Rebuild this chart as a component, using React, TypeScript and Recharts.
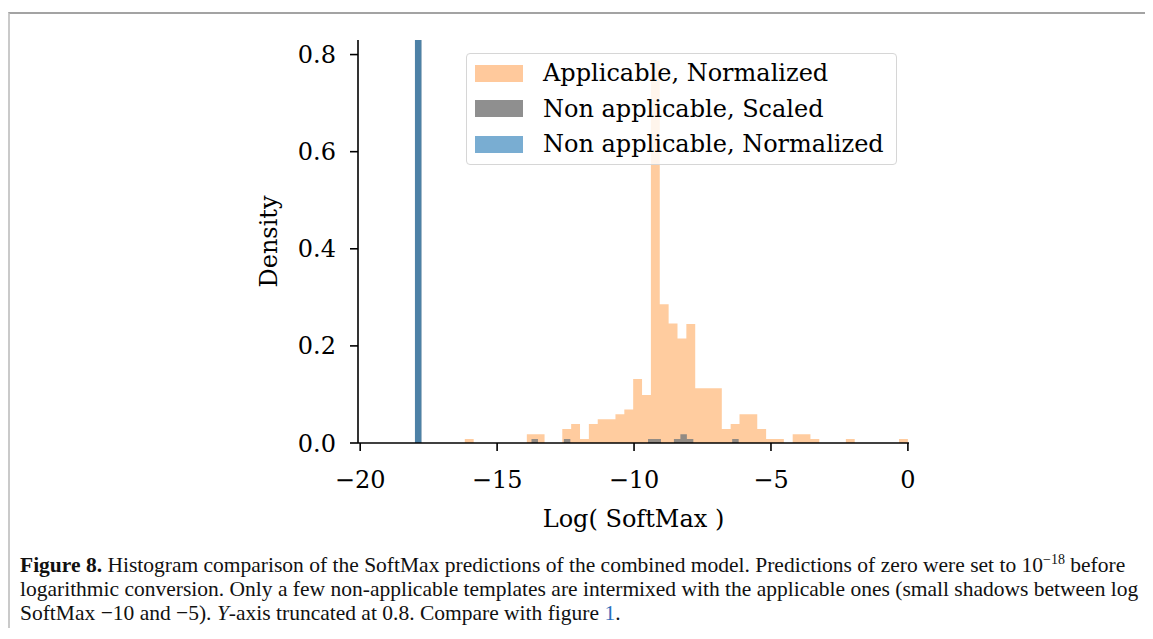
import React from 'react';
import { ComposedChart, Area, XAxis, YAxis, Legend } from 'recharts';

const seriesNames = ['Applicable, Normalized', 'Non applicable, Scaled', 'Non applicable, Normalized'];
const seriesColors = ['#ff7f0e', '#7f7f7f', '#1f77b4'];
const seriesOpacity = [0.4, 0.85, 0.6];
const swatchColors = ['#ffc99c', '#8f8f8f', '#79add2'];

// applicable templates, normalized (50 bins between -16.18 and 0)
const applicableStart = -16.18;
const applicableBinWidth = 0.3236;
const applicableDensity = [
  0.008, 0, 0, 0, 0, 0, 0, 0.018, 0.018, 0,
  0, 0.029, 0.039, 0.008, 0.039, 0.049, 0.049, 0.059, 0.069, 0.132,
  0.099, 0.788, 0.286, 0.246, 0.215, 0.245, 0.113, 0.113, 0.113, 0.029,
  0.039, 0.059, 0.059, 0.029, 0.008, 0.008, 0, 0.018, 0.018, 0.008,
  0, 0, 0, 0.008, 0, 0, 0, 0, 0, 0.008,
];

// non applicable, scaled (50 bins between -18 and -6.18); first bin truncated
const scaledStart = -18;
const scaledBinWidth = 0.2364;
const scaledDensity = [
  4.15, 0, 0, 0, 0, 0, 0, 0, 0, 0,
  0, 0, 0, 0, 0, 0, 0, 0, 0.008, 0,
  0, 0, 0, 0.008, 0, 0, 0, 0, 0, 0,
  0, 0, 0, 0, 0, 0, 0.008, 0.008, 0, 0,
  0.008, 0.018, 0.008, 0, 0, 0, 0, 0, 0, 0.008,
];

// non applicable, normalized: everything in the first bin (truncated)
const normalizedStart = -18;
const normalizedBinWidth = 0.2364;
const normalizedDensity = [4.23];

const xTicks = [-20, -15, -10, -5, 0];
const yTicks = [0, 0.2, 0.4, 0.6, 0.8];

const toSteps = (start: number, width: number, values: number[]) => {
  const pts = values.map((y, i) => ({ x: start + i * width, y }));
  pts.push({ x: start + values.length * width, y: values[values.length - 1] });
  return pts;
};

const histograms = [
  toSteps(applicableStart, applicableBinWidth, applicableDensity),
  toSteps(scaledStart, scaledBinWidth, scaledDensity),
  toSteps(normalizedStart, normalizedBinWidth, normalizedDensity),
];

const serif = '"DejaVu Serif", serif';
const tickStyle = { fontFamily: serif, fontSize: 24, fill: '#000' };

const LegendBox = () => (
  <div
    style={{
      width: 429,
      height: 110,
      border: '1px solid #d6d6d6',
      borderRadius: 4,
      background: 'rgba(255,255,255,0.8)',
      position: 'relative',
      fontFamily: serif,
      fontSize: 24,
      color: '#000',
    }}
  >
    {seriesNames.map((name, i) => (
      <div key={name} style={{ position: 'absolute', left: 8, top: 6 + i * 35.5, height: 26, display: 'flex', alignItems: 'center' }}>
        <span style={{ display: 'inline-block', width: 48, height: 17, background: swatchColors[i], marginRight: 20 }} />
        <span style={{ whiteSpace: 'nowrap' }}>{name}</span>
      </div>
    ))}
  </div>
);

export default function App() {
  return (
    <div style={{ position: 'relative', width: 1145, height: 620, background: '#fff' }}>
      <div
        style={{
          position: 'absolute', left: 0, top: 4, right: 0, bottom: -8,
          borderTop: '2px solid #a3a3a3', borderLeft: '2px solid #cacaca',
        }}
      />
      <div style={{ position: 'absolute', left: 0, top: 0 }}>
        <ComposedChart width={911} height={535} margin={{ top: 32, right: 10, bottom: 0, left: 240 }}>
          <XAxis
            type="number"
            dataKey="x"
            domain={[-20.08, 0.04]}
            allowDataOverflow
            ticks={xTicks}
            tickFormatter={(v: number) => String(v).replace('-', '\u2212')}
            tick={tickStyle}
            tickSize={8}
            tickMargin={20}
            height={100}
            axisLine={{ stroke: '#000', strokeWidth: 1.6 }}
            tickLine={{ stroke: '#000', strokeWidth: 1.6 }}
            label={{ value: 'Log( SoftMax )', position: 'insideTop', offset: 67, style: { fontFamily: serif, fontSize: 24, fill: '#000' } }}
          />
          <YAxis
            type="number"
            domain={[0, 0.83]}
            allowDataOverflow
            ticks={yTicks}
            tickFormatter={(v: number) => v.toFixed(1)}
            tick={tickStyle}
            tickSize={8}
            tickMargin={14}
            width={110}
            axisLine={{ stroke: '#000', strokeWidth: 1.6 }}
            tickLine={{ stroke: '#000', strokeWidth: 1.6 }}
            label={{ value: 'Density', angle: -90, position: 'insideLeft', offset: 20, style: { fontFamily: serif, fontSize: 24, fill: '#000', textAnchor: 'middle' } }}
          />
          {histograms.map((steps, i) => (
            <Area
              key={seriesNames[i]}
              name={seriesNames[i]}
              data={steps}
              dataKey="y"
              type="stepAfter"
              fill={seriesColors[i]}
              fillOpacity={seriesOpacity[i]}
              stroke="none"
              dot={false}
              activeDot={false}
              baseValue={0}
              isAnimationActive={false}
            />
          ))}
          <Legend
            layout="vertical"
            align="center"
            verticalAlign="middle"
            content={() => <LegendBox />}
            wrapperStyle={{ position: 'absolute', left: 458, top: 45, width: 431, height: 112 }}
          />
        </ComposedChart>
      </div>
      <div
        style={{
          position: 'absolute', left: 12, top: 545, width: 1130,
          fontFamily: '"Liberation Serif", serif', fontSize: 21.5, lineHeight: '24px', color: '#111',
        }}
      >
        <div style={{ whiteSpace: 'nowrap' }}>
          <b>Figure 8.</b> Histogram comparison of the SoftMax predictions of the combined model. Predictions of zero were set to 10<sup style={{ fontSize: 14, lineHeight: 0 }}>{'\u221218'}</sup> before
        </div>
        <div style={{ whiteSpace: 'nowrap' }}>
          logarithmic conversion. Only a few non-applicable templates are intermixed with the applicable ones (small shadows between log
        </div>
        <div style={{ whiteSpace: 'nowrap' }}>
          SoftMax {'\u2212'}10 and {'\u2212'}5). <i>Y</i>-axis truncated at 0.8. Compare with figure <span style={{ color: '#2a6ebb' }}>1</span>.
        </div>
      </div>
    </div>
  );
}
